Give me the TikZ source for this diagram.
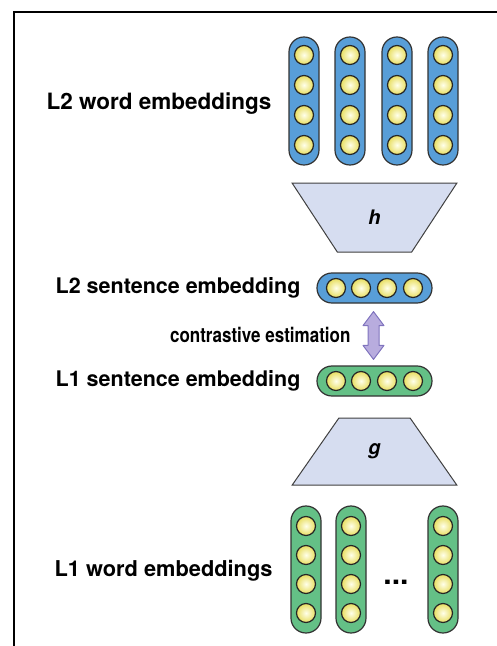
\documentclass[tikz,border=0pt]{standalone}
\usepackage{fontspec}
\setmainfont{TeX Gyre Heros}
\newfontfamily\narrowfont[FakeStretch=0.83]{TeX Gyre Heros}
\usetikzlibrary{calc,shapes.geometric}

\definecolor{wordblue}{RGB}{88,158,216}
\definecolor{wordgreen}{RGB}{100,192,134}
\definecolor{dotyellow}{RGB}{232,222,96}
\definecolor{encfill}{RGB}{214,221,240}
\definecolor{arrowfill}{RGB}{184,172,222}
\definecolor{arrowline}{RGB}{128,116,190}

\tikzset{
  capsule/.style={draw=black!80, line width=1.2, rounded corners=14.9, inner sep=0},
  unit/.style={circle, draw=black!85, line width=1.2, minimum size=19, inner sep=0,
    inner color=yellow!8!white, outer color=dotyellow},
  encoder/.style={trapezium, trapezium stretches=true, draw=black!75, line width=1,
    fill=encfill, minimum width=165, inner sep=0,
    font=\fontsize{20}{20}\selectfont\bfseries\itshape},
  label/.style={anchor=east, font=\fontsize{#1}{24}\selectfont\bfseries},
  label/.default=22.5,
  cearrow/.style={draw=arrowline, fill=arrowfill, line width=1, line join=round},
}

\begin{document}
\begin{tikzpicture}[x=1pt,y=1pt]
  \useasboundingbox (0,0) rectangle (497,-646);
  \draw[line width=2] (14,-646) -- (14,-12) -- (497,-12);

  % L2 word embeddings
  \node[label] (l2wlab) at (275,-104) {L2 word embeddings};
  \foreach \x [count=\i] in {304,350,397,443} {
    \node[capsule, fill=wordblue, minimum width=30, minimum height=128] (l2w\i) at (\x,-101) {};
    \foreach \y [count=\j] in {55,85,115,145}
      \node[unit] (l2w\i u\j) at (\x,-\y) {};
  }

  % encoder h
  \node[encoder, shape border rotate=180, minimum height=69, trapezium angle=63] (h) at (374.5,-217.5) {h};

  % sentence embeddings
  \node[capsule, fill=wordblue, minimum width=115, minimum height=30] (l2s) at (374.5,-288) {};
  \foreach \x [count=\j] in {336,361,387,413}
    \node[unit] (l2su\j) at (\x,-288) {};
  \node[label=21.5] (l2slab) at (304,-288) {L2 sentence embedding};

  \node[capsule, fill=wordgreen, minimum width=115, minimum height=30] (l1s) at (374.5,-381) {};
  \foreach \x [count=\j] in {336,361,387,413}
    \node[unit] (l1su\j) at (\x,-381) {};
  \node[label=21.5] (l1slab) at (304,-381) {L1 sentence embedding};

  % contrastive arrow
  \coordinate (ctop) at ($(l2s.south)+(-1,-8)$);
  \coordinate (cbot) at ($(l1s.north)+(-1,6)$);
  \draw[cearrow] (ctop) -- ++(10.5,-14) -- ++(-5,0) -- ($(cbot)+(5.5,14)$) -- ++(5,0) -- (cbot)
    -- ++(-10.5,14) -- ++(5,0) -- ($(ctop)+(-5.5,-14)$) -- ++(-5,0) -- cycle;
  \node[anchor=east, font=\narrowfont\fontsize{20.5}{21}\selectfont\bfseries] (celab) at (354,-335) {contrastive estimation};

  % encoder g
  \node[encoder, minimum height=67, trapezium angle=62.4] (g) at (374.5,-451.5) {g};

  % L1 word embeddings
  \foreach \x [count=\i] in {306,351,443} {
    \node[capsule, fill=wordgreen, minimum width=30, minimum height=127] (l1w\i) at (\x,-569.5) {};
    \foreach \y [count=\j] in {526,555,584,613}
      \node[unit] (l1w\i u\j) at (\x,-\y) {};
  }
  \node[font=\fontsize{30}{30}\selectfont\bfseries] (dots) at (396,-582) {...};
  \node[label=21.8] (l1wlab) at (276,-571) {L1 word embeddings};
\end{tikzpicture}
\end{document}
